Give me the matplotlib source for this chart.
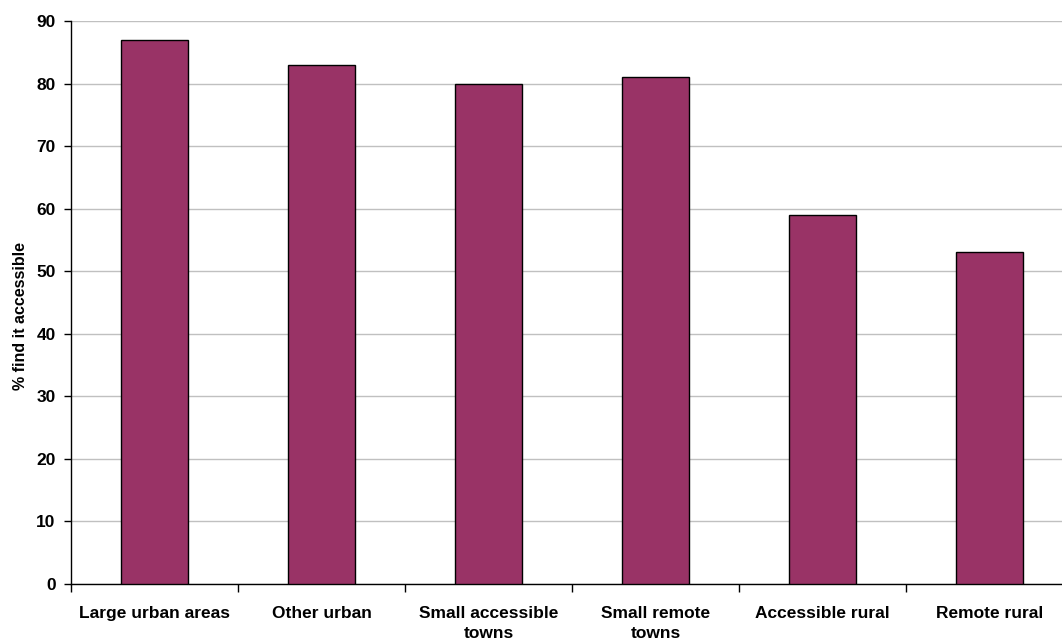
import matplotlib.pyplot as plt
import numpy as np

categories = ["Large urban areas", "Other urban", "Small accessible\ntowns",
              "Small remote\ntowns", "Accessible rural", "Remote rural"]
values = [87, 83, 80, 81, 59, 53]
y_ticks = [0, 10, 20, 30, 40, 50, 60, 70, 80, 90]

plt.rcParams["font.family"] = ["Liberation Sans", "DejaVu Sans"]
plt.rcParams["font.weight"] = "bold"

fig = plt.figure(figsize=(10.62, 6.38), dpi=100)
# the category axis runs a little past the right edge of the figure
ax = fig.add_axes([71 / 1062, 54 / 638, 1002 / 1062, 563 / 638])

x = np.arange(len(categories))
ax.bar(x, values, width=0.4, color="#993366", edgecolor="#000000", linewidth=1, zorder=3)

ax.set_xlim(-0.5, len(categories) - 0.5)
ax.set_ylim(0, 90)
ax.set_yticks(y_ticks)
ax.yaxis.grid(True, color="#c0c0c0", linewidth=1, zorder=0)
ax.tick_params(axis="y", length=5, width=1, labelsize=12.5, pad=6)

# category labels sit between the boundary ticks
ax.set_xticks(x)
ax.set_xticklabels(categories, fontsize=12.5, fontweight="bold", linespacing=1.45, va="top")
ax.tick_params(axis="x", which="major", length=0, pad=15.5)
ax.set_xticks(np.arange(len(categories) + 1) - 0.5, minor=True)
ax.tick_params(axis="x", which="minor", length=6, width=1)

for side in ["top", "right"]:
    ax.spines[side].set_visible(False)
ax.spines["left"].set_linewidth(1)
ax.spines["bottom"].set_linewidth(1)

ax.set_ylabel("% find it accessible", fontsize=11.5, fontweight="bold")
ax.yaxis.set_label_coords(-0.043, 0.476)

fig.savefig("out.png", dpi=100)
